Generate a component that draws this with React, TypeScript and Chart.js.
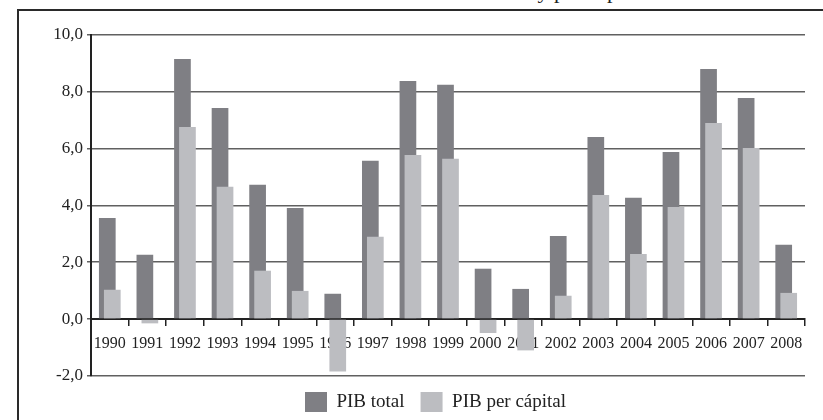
import React, { useEffect, useRef } from 'react';
import { Chart, registerables } from 'chart.js';

Chart.register(...registerables);

const years = ['1990', '1991', '1992', '1993', '1994', '1995', '1996', '1997', '1998', '1999',
  '2000', '2001', '2002', '2003', '2004', '2005', '2006', '2007', '2008'];
const pibTotal = [3.55, 2.26, 9.14, 7.42, 4.72, 3.90, 0.89, 5.56, 8.37, 8.23,
  1.77, 1.06, 2.92, 6.40, 4.26, 5.87, 8.79, 7.77, 2.61];
const pibPerCapita = [1.03, -0.15, 6.75, 4.65, 1.70, 0.99, -1.84, 2.89, 5.77, 5.63,
  -0.49, -1.10, 0.82, 4.36, 2.29, 3.94, 6.89, 6.01, 0.92];
const yTicks = [-2, 0, 2, 4, 6, 8, 10];
const seriesNames = ['PIB total', 'PIB per cápital'];
const titleText = 'Tasa de crecimiento del PIB total y per cápita';

const FONT = "'Liberation Serif', 'Times New Roman', serif";
const DARK = '#7f7f84';
const LIGHT = '#bcbdc1';
const INK = '#222222';

// draw datasets in index order so the light bars overlap the dark ones
const drawInIndexOrder = {
  id: 'drawInIndexOrder',
  beforeDatasetsDraw(chart: any) {
    const metas = chart.getSortedVisibleDatasetMetas();
    metas.forEach((m: any) => m.controller.draw());
    return false;
  },
};

export default function App() {
  const canvasRef = useRef<HTMLCanvasElement | null>(null);

  useEffect(() => {
    if (!canvasRef.current) return;
    const chart = new Chart(canvasRef.current, {
      type: 'bar',
      data: {
        labels: years,
        datasets: [
          {
            label: seriesNames[0],
            data: pibTotal,
            backgroundColor: DARK,
            borderColor: DARK,
            borderWidth: 0,
            categoryPercentage: 0.266,
            barPercentage: 3.34,
          },
          {
            label: seriesNames[1],
            data: pibPerCapita,
            backgroundColor: LIGHT,
            borderColor: LIGHT,
            borderWidth: 0,
            categoryPercentage: 0.266,
            barPercentage: 3.34,
          },
        ],
      },
      options: {
        responsive: false,
        animation: false,
        devicePixelRatio: 1,
        layout: { padding: { left: 50, right: 2, top: 34.5, bottom: -2 } },
        plugins: {
          legend: {
            position: 'bottom',
            labels: {
              boxWidth: 22,
              boxHeight: 20,
              padding: 16,
              color: INK,
              font: { family: FONT, size: 19 },
            },
          },
          tooltip: { enabled: false },
          title: { display: false },
        },
        scales: {
          x: {
            position: { y: 0 } as any,
            offset: true,
            grid: {
              display: true,
              drawOnChartArea: false,
              drawTicks: true,
              tickLength: 6,
              color: INK,
              lineWidth: 1.5,
              offset: true,
            },
            border: { display: true, color: INK, width: 2 },
            ticks: {
              color: INK,
              font: { family: FONT, size: 16 },
              padding: 9,
              maxRotation: 0,
              autoSkip: false,
            },
          },
          y: {
            min: -2,
            max: 10,
            afterFit: (s: any) => { s.width = 41; },
            afterBuildTicks: (s: any) => { s.ticks = yTicks.map((v) => ({ value: v })); },
            grid: { color: '#606060', lineWidth: 1.5, tickLength: 4, drawTicks: true },
            border: { display: true, color: INK, width: 2 },
            ticks: {
              color: INK,
              font: { family: FONT, size: 17 },
              padding: 4,
              callback: (v: any) => Number(v).toFixed(1).replace('.', ','),
            },
          },
          // empty right-hand margin box (keeps the legend centred like the original)
          yRight: {
            type: 'linear',
            position: 'right',
            display: true,
            afterFit: (s: any) => { s.width = 16; },
            grid: { display: false, drawOnChartArea: false },
            border: { display: false },
            ticks: { display: false },
          },
        },
      },
      plugins: [drawInIndexOrder],
    } as any);
    return () => chart.destroy();
  }, []);

  return (
    <div style={{ position: 'fixed', left: 0, top: 0, width: 823, height: 420, overflow: 'hidden', background: '#fff' }}>
      <div style={{ position: 'absolute', left: 0, top: -20, width: 640, textAlign: 'right', fontFamily: FONT, fontSize: 22, lineHeight: '22px', color: INK, whiteSpace: 'nowrap' }}>
        {titleText}
      </div>
      <div style={{ position: 'absolute', left: 17, top: 9, width: 900, height: 500, border: '2px solid #2a2a2a', boxSizing: 'border-box' }} />
      <canvas ref={canvasRef} width={823} height={420} style={{ position: 'absolute', left: 0, top: 0, width: 823, height: 420 }} />
    </div>
  );
}
